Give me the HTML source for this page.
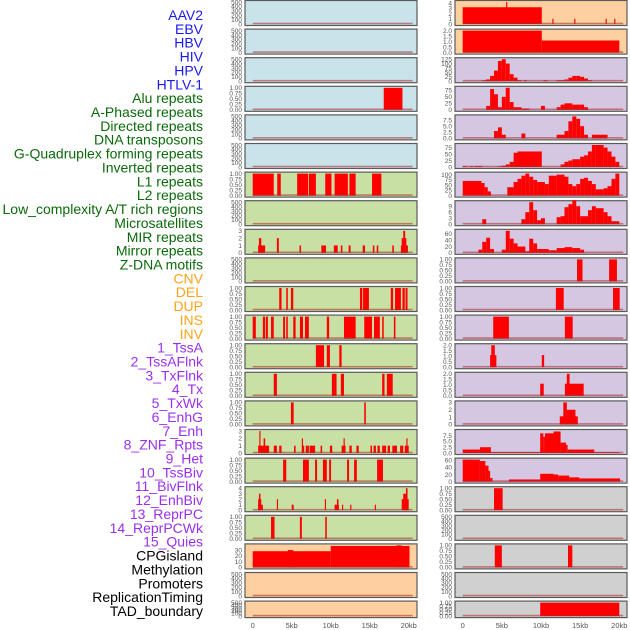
<!DOCTYPE html>
<html><head><meta charset="utf-8"><style>
html,body{margin:0;padding:0;background:#fff;}
svg{display:block;font-family:"Liberation Sans",sans-serif;}
</style></head><body>
<svg id="chart" width="630" height="630" viewBox="0 0 630 630" xmlns="http://www.w3.org/2000/svg"></svg>
<script>
const labelNames=["AAV2","EBV","HBV","HIV","HPV","HTLV-1","Alu repeats","A-Phased repeats","Directed repeats","DNA transposons","G-Quadruplex forming repeats","Inverted repeats","L1 repeats","L2 repeats","Low_complexity A/T rich regions","Microsatellites","MIR repeats","Mirror repeats","Z-DNA motifs","CNV","DEL","DUP","INS","INV","1_TssA","2_TssAFlnk","3_TxFlnk","4_Tx","5_TxWk","6_EnhG","7_Enh","8_ZNF_Rpts","9_Het","10_TssBiv","11_BivFlnk","12_EnhBiv","13_ReprPC","14_ReprPCWk","15_Quies","CPGisland","Methylation","Promoters","ReplicationTiming","TAD_boundary"];
const labelGroups=["v","v","v","v","v","v","r","r","r","r","r","r","r","r","r","r","r","r","r","s","s","s","s","s","c","c","c","c","c","c","c","c","c","c","c","c","c","c","c","k","k","k","k","k"];
const xTickValues=[0,5,10,15,20];
const xTickLabels=["0","5kb","10kb","15kb","20kb"];
// left column data: [startKb,endKb,value]
const L1=[], L2=[], L3=[];
const L4=[[16.8,19.2,1]];
const L5=[], L6=[];
const L7=[[0,2.7,1],[3.15,3.6,1],[5.7,7.1,1],[7.2,8.1,1],[9.3,10.1,1],[10.5,12.2,1],[12.4,13.2,1],[15.3,16.5,1]];
const L8=[];
const L9=[[0.7,1.6,1],[0.8,1.1,2],[3.1,3.35,2],[6.0,6.2,1],[8.8,9.4,1],[10.4,10.9,1],[11.3,11.5,1],[12.3,12.55,1],[14.1,14.4,1],[15.4,15.6,1],[15.9,16.1,1],[17.9,18.1,1],[19.0,19.9,1],[19.1,19.7,2],[19.3,19.55,3]];
const L10=[];
const L11=[[3.4,3.7,1],[4.3,4.5,1],[4.9,5.2,1],[13.75,14.05,1],[14.15,14.9,1],[17.7,18.0,1],[18.25,19.0,1],[19.2,19.5,1],[19.6,19.85,1]];
const L12=[[0,0.4,1],[1.3,1.6,1],[1.7,1.95,1],[2.35,2.7,1],[3.9,4.15,1],[4.3,4.5,1],[5.2,5.5,1],[6.05,6.45,1],[6.7,7.2,1],[9.5,9.8,1],[11.7,13.2,1],[14.3,15.3,1],[15.55,16.3,1],[16.6,16.8,1],[18.1,18.3,1]];
const L13=[[8.1,9.15,1],[9.5,9.9,1],[11.1,11.4,1]];
const L14=[[2.7,3.1,1],[10.15,10.75,1],[11.3,11.7,1],[16.6,16.9,1],[17.2,17.95,1]];
const L15=[[4.9,5.25,1],[14.3,14.5,1]];
const L16=[[0.7,2.1,1],[0.85,1.0,3],[1.4,1.6,2],[2.7,3.1,1],[3.4,3.7,1],[5.3,5.5,1],[6.3,6.45,2],[6.3,6.6,1],[6.8,7.2,1],[7.3,8.0,1],[8.7,8.9,1],[9.9,10.2,1],[11.4,11.9,1],[11.65,11.8,2],[12.4,12.7,1],[13.3,13.6,1],[15.1,15.3,1],[15.5,15.8,1],[16.0,16.3,1],[16.6,17.1,1],[17.3,17.6,1],[17.9,18.5,1],[18.9,19.3,1],[19.5,20.0,1],[19.7,19.85,2]];
const L17=[[3.9,4.3,1],[6.45,7.2,1],[8.0,8.25,1],[9.0,9.5,1],[9.8,10.05,1],[12.1,12.35,1],[13.0,13.35,1],[15.95,16.7,1]];
const L18=[[0.7,1.3,1],[0.7,1.1,2],[0.8,1.0,3],[3.1,3.25,2],[5.0,5.25,1],[9.25,9.4,2],[10.5,11.05,1],[10.8,11.0,2],[11.45,11.6,1],[12.5,12.65,1],[15.65,15.8,1],[19.1,20.0,2],[19.3,19.8,3],[19.65,19.85,4]];
const L19=[[2.35,2.8,1],[6.05,6.3,1],[9.3,9.5,1]];
const L20=[[0,10,28],[4.5,5.2,30],[10,20.1,37],[18.4,19.1,38]];
const L21=[], L22=[];
// right column data
const R1=[[0,10.1,3.2],[5.55,5.7,4.2],[11.45,11.6,1],[14.25,14.4,1],[18.25,18.4,1],[19.35,19.5,1]];
const R2=[[0,10.1,2.0],[10.1,20,1.1]];
const R3=[[2.5,3,5],[3,3.5,10],[3.5,4,30],[4,4.5,60],[4.5,5,115],[5,5.5,125],[5.5,6,100],[6,6.5,40],[6.5,7,20],[7,7.5,5],[7.8,8.2,5],[10.3,10.8,5],[12,13,5],[13,13.5,10],[13.5,14,20],[14,14.5,30],[14.5,15,30],[15,15.5,25],[15.5,16,15],[16,16.5,5]];
const R4=[[3,3.5,15],[3.5,4,80],[4,4.5,60],[4.5,5,10],[5,5.5,50],[5.5,6,85],[6,6.5,30],[6.5,7.5,10],[7.5,8.5,5],[10,10.5,15],[12,12.5,10],[12.5,13,20],[13,14,25],[14,15,20],[15,15.5,20],[15.5,16,10]];
const R5=[[4,4.5,3],[4.5,5,4.5],[5,5.5,1.5],[7.5,8,2],[12,13,1.5],[13,13.5,3],[13.5,14,7],[14,14.5,9],[14.5,15,8],[15,15.5,5],[15.5,16,1.5],[16.5,18.5,1.5]];
const R6=[[0,0.5,3],[1,1.3,3],[1.5,2.5,3],[4.5,5,2],[5,5.5,5],[5.5,6,10],[6,6.5,20],[6.5,7,55],[7,10.1,60],[12.5,13,10],[13,13.5,20],[13.5,14,25],[14,15,30],[15,15.5,40],[15.5,16,45],[16,16.5,60],[16.5,17,85],[17,18,85],[18,18.5,75],[18.5,19,60],[19,19.5,40],[19.5,20,20]];
const R7=[[0,2.4,70],[2.4,2.8,60],[2.8,3.2,40],[3.2,3.6,20],[5.7,6.5,40],[6.5,7,65],[7,7.5,80],[7.5,8,95],[8,8.5,105],[8.5,9,90],[9,9.5,75],[9.5,10.5,65],[10.5,11,55],[11,12,95],[12,13,100],[13,13.5,90],[13.5,14,55],[14,14.5,45],[14.5,15,55],[15,15.5,80],[15.5,16,85],[16,16.5,70],[16.5,17,55],[17,18,30],[18,18.5,35],[18.5,19,45],[19,19.5,80],[19.5,20,105]];
const R8=[[2.5,3,2.5],[7.5,8,2.5],[8,8.5,6],[8.5,9,11],[9,9.5,7],[9.5,10,2],[10,10.5,3],[12,12.5,3.5],[12.5,13,4],[13,13.5,8.5],[13.5,14,10],[14,14.5,12],[14.5,15,9],[15,16,4],[16,16.5,7],[16.5,17,9],[17,18,8],[18,18.5,6],[18.5,19,4],[19,20,1.5]];
const R9=[[2,2.5,10],[2.5,3,35],[3,3.5,48],[3.5,4,12],[5,5.5,10],[5.5,6,70],[6,6.5,45],[6.5,7,30],[7,8,20],[8,8.5,5],[8.5,9,45],[9,9.5,30],[9.5,11,12],[11,12,8],[12,13,15],[13,14,18],[14,15,15],[15,15.5,10]];
const R10=[[14.6,15.3,1],[18.7,19.7,1]];
const R11=[[11.9,12.9,1],[19.2,20.05,1]];
const R12=[[3.9,5.9,1],[13.05,14.05,1]];
const R13=[[3.5,4.3,1.1],[3.65,4.1,2],[10.1,10.4,1.1]];
const R14=[[9.9,10.35,1.1],[13.05,15.45,1.1],[13.3,13.65,2]];
const R15=[[12.4,14.7,1.1],[13.3,14.4,2],[12.85,13.3,3]];
const R16=[[0,2.2,1.5],[2.2,3.6,2.5],[3.6,9.9,0.3],[9.9,10.3,8.5],[10.3,10.5,7],[10.5,11.6,8.5],[11.6,12.5,9.3],[12.5,13.2,4.5],[13.2,13.4,3.5],[13.4,16.8,1.5],[16.8,20,0.3]];
const R17=[[0,2.2,62],[2.2,2.9,58],[2.9,3.3,45],[3.3,3.5,30],[3.5,3.8,10],[3.8,5.9,0.5],[5.9,9.9,6],[9.9,11.6,22],[11.6,12.2,20],[12.2,13.6,17],[13.6,14.9,12],[14.9,20.1,9]];
const R18=[[4.0,5.1,1]];
const R19=[];
const R20=[[4.1,5.0,1],[13.45,14.0,1]];
const R21=[];
const R22=[[9.9,20.0,1]];
const leftData=[L1,L2,L3,L4,L5,L6,L7,L8,L9,L10,L11,L12,L13,L14,L15,L16,L17,L18,L19,L20,L21,L22];
const rightData=[R1,R2,R3,R4,R5,R6,R7,R8,R9,R10,R11,R12,R13,R14,R15,R16,R17,R18,R19,R20,R21,R22];
const leftMax=[500,500,500,1,500,500,1,500,3,500,1,1,1,1,1,3,1,4,1,38,500,500];
const rightMax=[4.2,2,125,85,9,85,105,11,70,1,1,1,2,2,3,9.5,62,1,500,1,500,1];
const leftTicks=[null,null,null,[0,0.25,0.5,0.75,1],null,null,[0,0.25,0.5,0.75,1],null,[0,1,2,3],null,[0,0.25,0.5,0.75,1],[0,0.25,0.5,0.75,1],[0,0.25,0.5,0.75,1],[0,0.25,0.5,0.75,1],[0,0.25,0.5,0.75,1],[0,1,2,3],[0,0.25,0.5,0.75,1],[0,1,2,3,4],[0,0.25,0.5,0.75,1],[0,10,20,30],null,null];
const rightTicks=[[0,1,2,3,4],[0,0.5,1,1.5,2],[0,25,50,75,100,125],[0,25,50,75],[0,2.5,5,7.5],[0,25,50,75],[0,25,50,75,100],[0,3,6,9],[0,20,40,60],[0,0.25,0.5,0.75,1],[0,0.25,0.5,0.75,1],[0,0.25,0.5,0.75,1],[0,0.5,1,1.5,2],[0,0.5,1,1.5,2],[0,1,2,3],[0,2.5,5,7.5],[0,20,40,60],[0,0.25,0.5,0.75,1],null,[0,0.25,0.5,0.75,1],null,[0,0.25,0.5,0.75,1]];
const leftBg=["b","b","b","b","b","b","g","g","g","g","g","g","g","g","g","g","g","g","g","o","o","o"];
const rightBg=["o","o","p","p","p","p","p","p","p","p","p","p","p","p","p","p","p","x","x","x","x","x"];

const NS="http://www.w3.org/2000/svg";
const svg=document.getElementById('chart');
const bgColors={b:"#c9e3ea",g:"#c8e0a4",o:"#fed09f",p:"#d5c6e2",x:"#d0d0d0"};
const labelColors={v:"#1a1aee",r:"#0a6a0a",s:"#ffa31a",c:"#9a30ee",k:"#000"};
function mk(tag,attrs){const e=document.createElementNS(NS,tag);for(const k in attrs)e.setAttribute(k,attrs[k]);svg.appendChild(e);return e;}
function fmt(v,ticks){const dec=ticks.some(t=>t%1!==0)?(ticks.some(t=>(t*10)%1!==0)?2:1):0;return v.toFixed(dec);}
const cols=[{x0:245,x1:417,z:252.7,k:7.8,data:leftData,max:leftMax,ticks:leftTicks,bg:leftBg,name:'left'},
            {x0:455,x1:627,z:462.7,k:7.83,data:rightData,max:rightMax,ticks:rightTicks,bg:rightBg,name:'right'}];
cols.forEach(c=>{
  const xs=kb=>c.z+kb*c.k;
  for(let i=0;i<22;i++){
    const top=i*28.6+0.5, h=(i===21)?16.5:25;
    const r=mk('rect',{x:c.x0,y:top,width:c.x1-c.x0,height:h,fill:bgColors[c.bg[i]],stroke:"#5a5a5a","stroke-width":1.2});
    
    
    const yb=top+h-1.5, yt=top+1.5;
    const ys=v=>yb-(v/c.max[i])*(yb-yt);
    c.data[i].forEach(d=>{
      const b=mk('rect',{x:xs(d[0]),y:ys(d[2]),width:Math.max(0.8,xs(d[1])-xs(d[0])),height:yb-ys(d[2]),fill:"#ff0000"});
      
      
    });
    const bl=mk('rect',{x:xs(0),y:yb-1.3,width:xs(20.5)-xs(0),height:1.6,fill:"rgba(170,40,40,0.55)"});
    
    
    const tk=c.ticks[i]||[0,100,200,300,400,500];
    tk.forEach(t=>{
      const tx=mk('text',{x:c.x0-3,y:ys(t)+2.3,"font-size":6.5,fill:"#555","text-anchor":"end"});
      tx.textContent=fmt(t,tk);
      
      
    });
  }
  xTickValues.forEach((v,j)=>{
    const tx=mk('text',{x:xs(v),y:628,"font-size":7.5,fill:"#555","text-anchor":"middle"});
    tx.textContent=xTickLabels[j];
    
    
  });
});
labelNames.forEach((n,i)=>{
  const tx=mk('text',{x:203,y:20+i*13.86,"font-size":14,fill:labelColors[labelGroups[i]],"text-anchor":"end"});
  tx.textContent=n;
  
  
});
</script>
</body></html>
